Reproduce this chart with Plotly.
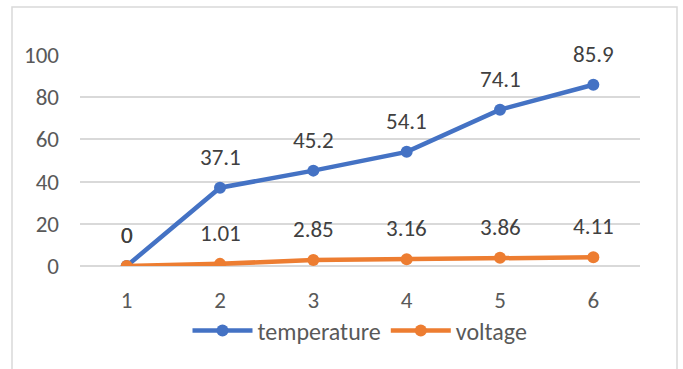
import plotly.graph_objects as go

categories = ["1", "2", "3", "4", "5", "6"]
temperature = [0, 37.1, 45.2, 54.1, 74.1, 85.9]
voltage = [0, 1.01, 2.85, 3.16, 3.86, 4.11]
y_ticks = [0, 20, 40, 60, 80, 100]

BLUE = "#4472C4"
ORANGE = "#ED7D31"
FONT = "Carlito, Calibri, 'Liberation Sans', Arial, sans-serif"
FS = 23

fig = go.Figure()
for name, vals, col in [("temperature", temperature, BLUE), ("voltage", voltage, ORANGE)]:
    fig.add_trace(go.Scatter(
        x=categories, y=vals, name=name, mode="lines+markers",
        line=dict(color=col, width=4.5),
        marker=dict(color=col, size=12),
    ))

annotations = []
for vals in (temperature, voltage):
    for i, v in enumerate(vals):
        annotations.append(dict(
            x=i, y=v, xref="x", yref="y", text=f"{v:g}", showarrow=False,
            yshift=31, font=dict(family=FONT, size=FS, color="#404040"),
        ))

W, H = 683, 369
L, R, T, B = 80, 640, 55, 266
pw, ph = R - L, B - T

def px(x):
    return (x - L) / pw

def py(y):
    return (B - y) / ph

fig.update_layout(
    width=W, height=H,
    margin=dict(l=L, r=W - R, t=T, b=H - B, pad=0, autoexpand=False),
    paper_bgcolor="white", plot_bgcolor="white",
    font=dict(family=FONT, size=FS, color="#595959"),
    showlegend=True,
    legend=dict(orientation="h", x=0.5, xanchor="center", y=py(331), yanchor="middle",
                font=dict(family=FONT, size=24, color="#595959"), itemwidth=60,
                tracegroupgap=0, bgcolor="rgba(0,0,0,0)"),
    xaxis=dict(type="category", range=[-0.5, 5.5], showgrid=False, showline=False,
               zeroline=False, ticks="", ticklabelstandoff=18, automargin=False,
               tickfont=dict(family=FONT, size=FS, color="#595959")),
    yaxis=dict(range=[0, 100], tickvals=y_ticks, showgrid=True, gridcolor="#D9D9D9",
               gridwidth=1.5, zeroline=True, zerolinecolor="#D9D9D9", zerolinewidth=1.5,
               showline=False, ticks="", ticklabelstandoff=20, automargin=False,
               tickfont=dict(family=FONT, size=FS, color="#595959")),
    annotations=annotations,
    shapes=[dict(type="rect", xref="paper", yref="paper",
                 x0=px(12), x1=px(677), y0=py(375), y1=py(7),
                 line=dict(color="#D9D9D9", width=1.5), layer="below")],
)

fig.write_html(
    "out.html",
    config={"displayModeBar": False},
    post_script="document.body.style.margin='0';document.body.style.overflow='hidden';",
)
